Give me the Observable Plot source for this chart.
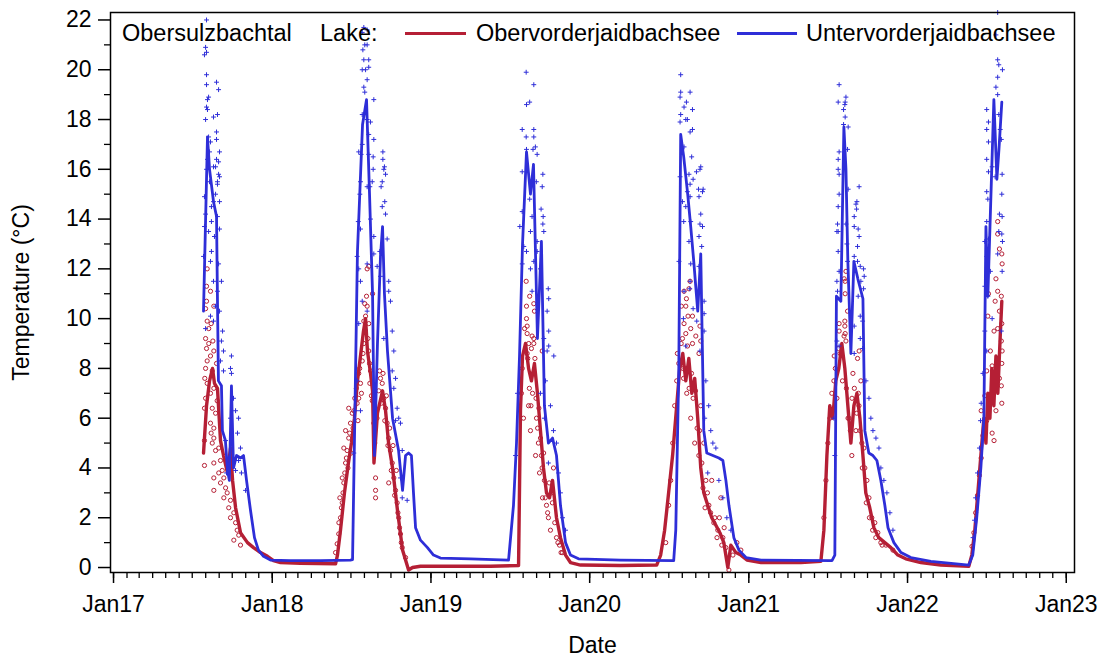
<!DOCTYPE html>
<html><head><meta charset="utf-8">
<script src="https://cdn.jsdelivr.net/npm/d3@7"></script>
<script src="https://cdn.jsdelivr.net/npm/@observablehq/plot@0.6"></script>
<style>
body{margin:0;background:#fff;font-family:"Liberation Sans",Arial,sans-serif;}
#wrap{position:relative;width:1101px;height:659px;}
.leg{position:absolute;font-size:23.5px;line-height:23px;color:#000;white-space:nowrap;}
.sw{position:absolute;height:3px;}
</style></head><body><div id="wrap"></div>
<script>
// ---- data (decimal years, °C) ----
const oberLineYear = [2017.567,2017.586,2017.605,2017.624,2017.636,2017.655,2017.674,2017.693,2017.718,2017.737,2017.750,2017.769,2017.800,2017.844,2017.882,2017.926,2017.970,2018.008,2018.052,2018.178,2018.399,
2018.411,2018.430,2018.455,2018.480,2018.499,2018.518,2018.537,2018.556,2018.575,2018.588,2018.600,2018.619,2018.632,2018.641,2018.663,2018.695,2018.714,2018.733,2018.758,2018.789,2018.821,2018.840,2018.859,2018.884,2018.934,2019.123,2019.375,2019.552,
2019.564,2019.577,2019.596,2019.615,2019.633,2019.652,2019.671,2019.690,2019.709,2019.728,2019.747,2019.766,2019.791,2019.816,2019.848,2019.879,2019.942,2020.194,2020.421,
2020.446,2020.471,2020.496,2020.521,2020.547,2020.566,2020.585,2020.604,2020.623,2020.642,2020.660,2020.679,2020.698,2020.717,2020.742,2020.767,2020.793,2020.818,2020.843,2020.868,2020.887,2020.919,2020.950,2020.988,2021.077,2021.328,2021.454,
2021.473,2021.492,2021.510,2021.529,2021.548,2021.567,2021.586,2021.605,2021.624,2021.643,2021.662,2021.681,2021.700,2021.719,2021.737,2021.762,2021.788,2021.819,2021.857,2021.895,2021.939,2021.989,2022.084,2022.210,2022.386,
2022.405,2022.424,2022.443,2022.462,2022.481,2022.494,2022.506,2022.519,2022.531,2022.544,2022.557,2022.569,2022.582,2022.594];
const oberLineTemp = [4.6,6.5,7.5,8.0,7.4,7.2,5.1,4.5,3.8,4.8,3.5,2.4,1.4,1.0,0.8,0.6,0.45,0.28,0.2,0.17,0.15,
0.5,1.5,3.0,4.2,5.0,6.0,7.5,8.5,9.5,10.0,8.7,7.8,7.1,4.2,6.2,7.1,6.3,5.0,4.0,2.3,0.7,0.3,-0.1,0.0,0.05,0.05,0.05,0.08,
6.3,8.5,9.0,8.0,7.5,8.2,7.0,5.5,4.0,3.0,2.8,3.5,2.0,1.2,0.5,0.2,0.1,0.08,0.1,
0.5,1.5,3.0,4.5,6.5,8.0,8.6,7.5,8.4,7.0,7.6,6.0,4.0,3.0,2.5,2.0,1.7,1.4,1.0,0.0,0.9,0.6,0.5,0.3,0.2,0.2,0.25,
1.5,4.5,6.5,6.0,7.5,8.0,9.0,8.0,6.5,5.0,6.5,7.0,6.0,4.5,3.0,2.4,1.6,1.2,1.0,0.8,0.5,0.35,0.2,0.1,0.05,
0.5,1.5,3.0,4.5,6.0,5.0,7.0,6.0,8.0,6.5,8.5,7.0,9.0,10.7];

const unterLineYear = [2017.567,2017.592,2017.605,2017.630,2017.649,2017.655,2017.661,2017.680,2017.686,2017.705,2017.718,2017.730,2017.743,2017.756,2017.775,2017.800,2017.819,2017.838,2017.863,2017.888,2017.913,2017.945,2017.989,2018.115,2018.304,2018.492,
2018.506,2018.537,2018.569,2018.594,2018.613,2018.632,2018.644,2018.663,2018.682,2018.695,2018.707,2018.726,2018.758,2018.796,2018.821,2018.840,2018.859,2018.877,2018.890,2018.903,2018.934,2018.978,2019.016,2019.060,2019.249,2019.489,
2019.520,2019.539,2019.558,2019.577,2019.602,2019.627,2019.646,2019.671,2019.696,2019.715,2019.740,2019.766,2019.791,2019.816,2019.848,2019.879,2019.930,2020.194,2020.528,
2020.541,2020.560,2020.572,2020.591,2020.616,2020.635,2020.654,2020.679,2020.698,2020.717,2020.736,2020.774,2020.812,2020.837,2020.856,2020.875,2020.906,2020.938,2020.982,2021.077,2021.524,
2021.542,2021.552,2021.580,2021.599,2021.612,2021.624,2021.643,2021.662,2021.687,2021.719,2021.731,2021.756,2021.782,2021.807,2021.832,2021.857,2021.877,2021.914,2021.959,2022.021,2022.147,2022.386,
2022.411,2022.436,2022.462,2022.481,2022.494,2022.506,2022.544,2022.563,2022.576,2022.594];
const unterLineTemp = [10.3,17.3,16.0,14.7,14.1,10.7,7.5,7.3,5.5,5.1,3.9,3.5,7.3,4.0,4.5,4.4,4.5,3.5,2.3,1.2,0.7,0.45,0.3,0.28,0.28,0.3,
0.32,12.7,17.8,18.8,15.0,11.0,4.5,9.0,12.5,13.7,11.0,8.7,6.0,4.7,3.1,4.5,4.6,4.5,3.0,1.6,1.1,0.8,0.5,0.38,0.35,0.3,
2.5,5.0,8.5,13.0,16.7,15.0,16.2,9.2,13.1,6.5,5.0,5.2,4.5,2.5,1.0,0.5,0.35,0.3,0.28,
1.5,8.0,17.4,16.5,15.0,13.7,12.3,10.3,12.6,5.5,4.6,4.5,4.4,4.3,3.5,2.5,1.2,0.7,0.4,0.3,0.28,
0.5,10.9,10.7,17.7,16.0,12.3,8.6,12.3,11.6,10.8,5.5,4.6,4.5,4.3,3.5,2.5,1.6,1.0,0.6,0.4,0.25,0.1,
0.5,2.0,4.0,6.0,13.7,10.9,18.8,15.6,16.8,18.7];

const oberPointYear = [2017.590,2017.586,2017.611,2017.586,2017.632,2017.580,2017.590,2017.615,2017.600,2017.580,2017.626,2017.600,2017.586,2017.632,2017.611,2017.590,2017.580,2017.649,2017.622,2017.575,2017.590,2017.632,2017.611,2017.580,2017.653,2017.622,2017.573,2017.643,2017.611,2017.632,2017.615,2017.632,2017.573,2017.622,2017.643,2017.663,2017.674,2017.632,2017.573,2017.685,2017.663,2017.695,2017.632,2017.674,2017.706,2017.632,2017.716,2017.695,2017.737,2017.726,2017.758,2017.737,2017.769,2017.779,2017.789,2017.800,2017.758,
2018.399,2018.409,2018.419,2018.430,2018.441,2018.426,2018.451,2018.441,2018.462,2018.472,2018.451,2018.482,2018.462,2018.493,2018.504,2018.482,2018.514,2018.535,2018.545,2018.556,2018.545,2018.567,2018.577,2018.588,2018.577,2018.588,2018.598,2018.594,2018.608,2018.608,2018.619,2018.615,2018.630,2018.640,2018.646,2018.651,2018.651,2018.651,2018.671,2018.682,2018.693,2018.703,2018.714,2018.724,2018.734,2018.745,2018.756,2018.734,2018.766,2018.777,2018.787,2018.797,2018.808,2018.819,2018.840,2018.598,2018.608,2018.632,
2018.420,2018.436,2018.446,2018.457,2018.467,2018.477,2018.488,2018.498,2018.509,2018.520,2018.530,2018.540,2018.551,2018.562,2018.572,2018.583,2018.603,2018.613,2018.625,2018.660,2018.676,2018.688,2018.698,2018.709,2018.719,2018.729,2018.740,2018.750,2018.761,2018.771,2018.782,2018.792,2018.802,2018.813,
2019.600,2019.622,2019.602,2019.648,2019.652,2019.602,2019.606,2019.606,2019.637,2019.648,2019.616,2019.648,2019.633,2019.701,2019.606,2019.570,2019.583,2019.615,2019.640,2019.665,2019.677,2019.696,2019.715,2019.728,2019.740,2019.759,2019.772,2019.753,2019.791,2019.810,2019.829,2019.703,2019.684,2019.627,2019.659,
2019.575,2019.590,2019.610,2019.620,2019.630,2019.645,2019.655,2019.662,2019.672,2019.680,2019.690,2019.700,2019.710,2019.720,2019.735,2019.745,2019.765,2019.780,2019.800,2019.820,
2020.631,2020.593,2020.624,2020.608,2020.604,2020.576,2020.618,2020.646,2020.593,2020.693,2020.635,2020.604,2020.667,2020.583,2020.698,2020.646,2020.551,2020.687,2020.478,2020.496,2020.509,2020.522,2020.534,2020.547,2020.635,2020.660,2020.686,2020.698,2020.717,2020.730,2020.749,2020.767,2020.786,2020.805,2020.824,2020.837,2020.856,2020.875,2020.900,2020.925,2020.950,2020.610,2020.585,
2020.560,2020.575,2020.590,2020.600,2020.615,2020.625,2020.640,2020.650,2020.665,2020.675,2020.690,2020.705,2020.712,2020.725,2020.740,2020.760,2020.780,2020.800,2020.815,2020.830,2020.845,
2021.612,2021.601,2021.607,2021.607,2021.622,2021.569,2021.605,2021.605,2021.569,2021.607,2021.612,2021.565,2021.695,2021.538,2021.685,2021.473,2021.486,2021.498,2021.511,2021.523,2021.536,2021.631,2021.649,2021.675,2021.694,2021.712,2021.731,2021.744,2021.757,2021.775,2021.794,2021.813,2021.832,2021.864,2021.908,2021.706,2021.656,
2021.545,2021.555,2021.575,2021.590,2021.600,2021.615,2021.625,2021.640,2021.650,2021.665,2021.680,2021.690,2021.700,2021.715,2021.725,2021.740,2021.760,2021.780,2021.800,2021.840,
2022.568,2022.568,2022.579,2022.594,2022.596,2022.557,2022.568,2022.510,2022.591,2022.552,2022.579,2022.506,2022.594,2022.568,2022.545,2022.591,2022.596,2022.522,2022.594,2022.533,2022.499,2022.579,2022.591,2022.545,2022.487,2022.594,2022.557,2022.464,2022.499,2022.533,2022.475,2022.464,2022.453,2022.441,2022.429,2022.418,2022.406,2022.545];
const oberPointTemp = [12.0,11.3,11.1,10.7,10.5,10.4,9.9,9.8,9.6,9.2,9.1,9.0,8.8,8.7,8.5,8.3,8.0,8.2,7.9,7.6,7.4,7.2,7.0,6.8,6.7,6.4,6.4,6.2,5.8,5.6,5.4,5.2,5.1,5.0,4.7,4.8,4.3,4.2,4.1,3.9,3.8,3.6,3.6,3.4,3.2,3.1,3.0,2.8,2.7,2.4,2.2,2.0,1.8,1.5,1.3,0.9,1.1,
0.6,0.95,1.35,2.0,2.6,2.8,3.4,3.6,4.2,4.7,4.8,5.2,5.5,5.8,6.2,6.4,6.3,6.6,6.8,7.4,7.8,8.3,9.0,9.5,9.9,10.1,10.5,10.9,9.8,8.7,7.9,7.4,6.7,5.8,5.0,3.6,3.1,2.8,7.1,7.6,7.4,6.8,6.4,5.8,5.2,4.7,4.2,3.4,3.6,3.1,2.6,2.0,1.35,0.8,0.4,12.0,12.1,11.0,
1.8,2.4,3.0,3.8,4.4,4.0,5.4,4.6,5.6,6.8,7.2,5.9,8.0,7.0,8.6,10.6,9.2,8.2,6.9,6.0,7.9,6.6,7.8,5.9,6.9,4.9,5.6,3.9,4.9,2.9,3.9,2.2,1.6,1.0,
11.5,10.9,10.5,10.6,10.3,10.0,9.7,9.4,9.3,9.2,9.0,9.0,8.8,8.7,8.6,7.0,6.0,6.5,7.0,6.0,5.0,4.5,3.5,2.5,2.0,3.0,4.0,1.5,1.2,0.9,0.6,2.8,3.8,5.5,4.5,
8.0,9.6,8.4,7.2,6.5,7.8,8.4,6.8,5.6,6.4,5.2,4.0,4.6,2.8,2.2,3.4,2.6,1.8,1.0,0.6,
11.5,11.1,11.2,10.8,10.5,10.5,10.1,10.1,9.8,9.7,9.6,9.4,9.3,9.2,9.1,9.0,8.6,8.6,1.0,2.5,3.5,5.0,6.5,7.5,6.0,5.0,4.5,6.5,5.0,3.5,2.5,3.5,2.0,1.5,2.8,1.2,0.8,-0.1,0.5,1.0,0.7,7.0,8.0,
8.2,9.0,7.6,8.0,8.9,7.2,7.8,6.8,7.1,5.6,5.5,4.2,3.2,2.4,3.0,2.2,1.8,1.2,2.0,0.9,1.6,
11.9,11.6,11.5,11.0,10.3,9.8,9.9,9.7,9.5,9.4,9.1,8.8,8.7,8.5,8.4,2.0,3.5,5.0,6.0,7.0,7.5,6.0,4.5,5.5,6.5,5.0,4.0,3.5,2.8,2.0,1.8,1.4,1.0,0.9,0.7,7.5,7.8,
8.0,6.8,8.6,7.5,9.3,7.2,6.0,5.5,6.8,7.2,6.2,7.0,5.5,4.0,4.8,2.6,2.0,1.5,1.2,0.9,
13.9,13.4,12.8,12.6,12.2,11.6,11.1,11.0,10.9,10.7,10.3,10.1,9.8,9.6,9.5,9.1,8.7,8.7,8.2,8.1,7.9,7.6,7.3,7.2,6.9,6.6,6.3,6.3,5.9,5.4,5.3,4.4,3.7,2.9,2.2,1.4,0.85,5.1];

const unterPointYear = [2017.586,2017.580,2017.586,2017.573,2017.586,2017.649,2017.586,2017.662,2017.599,2017.592,2017.586,2017.592,2017.630,2017.655,2017.580,2017.649,2017.599,2017.611,2017.649,2017.605,2017.668,2017.649,2017.643,2017.592,2017.586,2017.662,2017.655,2017.605,2017.573,2017.662,2017.630,2017.668,2017.655,2017.643,2017.668,2017.630,2017.617,2017.655,2017.617,2017.668,2017.599,2017.636,2017.580,2017.573,2017.617,2017.611,2017.662,2017.567,2017.630,2017.680,2017.655,2017.643,2017.668,2017.611,2017.630,2017.580,2017.687,2017.680,2017.693,2017.743,2017.674,2017.737,2017.743,2017.693,2017.769,2017.788,2017.756,2017.781,2017.800,2017.788,2017.806,2017.832,2017.737,2017.706,2017.725,2017.769,2017.712,
2018.577,2018.598,2018.567,2018.583,2018.598,2018.571,2018.608,2018.577,2018.608,2018.567,2018.588,2018.598,2018.577,2018.583,2018.640,2018.567,2018.598,2018.608,2018.640,2018.545,2018.567,2018.697,2018.707,2018.714,2018.636,2018.630,2018.693,2018.556,2018.598,2018.619,2018.697,2018.560,2018.608,2018.636,2018.703,2018.686,2018.615,2018.552,2018.709,2018.693,2018.714,2018.542,2018.619,2018.556,2018.640,2018.724,2018.678,2018.640,2018.535,2018.545,2018.598,2018.661,2018.682,2018.734,2018.734,2018.556,2018.567,2018.745,2018.598,2018.756,2018.545,2018.703,2018.766,2018.756,2018.777,2018.766,2018.787,2018.777,2018.797,2018.808,2018.819,2018.808,2018.819,2018.850,2018.535,2018.556,2018.525,2018.514,
2019.600,2019.648,2019.602,2019.622,2019.575,2019.648,2019.600,2019.648,2019.658,2019.602,2019.643,2019.669,2019.575,2019.705,2019.664,2019.701,2019.622,2019.694,2019.575,2019.707,2019.637,2019.705,2019.560,2019.627,2019.711,2019.669,2019.585,2019.602,2019.669,2019.648,2019.627,2019.575,2019.690,2019.739,2019.637,2019.742,2019.732,2019.742,2019.711,2019.742,2019.774,2019.732,2019.722,2019.753,2019.772,2019.791,2019.740,2019.804,2019.816,2019.829,2019.848,2019.715,2019.690,2019.533,2019.545,
2020.572,2020.572,2020.631,2020.568,2020.608,2020.593,2020.646,2020.572,2020.604,2020.614,2020.568,2020.646,2020.631,2020.593,2020.641,2020.698,2020.693,2020.671,2020.624,2020.568,2020.650,2020.631,2020.684,2020.713,2020.709,2020.614,2020.631,2020.687,2020.583,2020.604,2020.698,2020.591,2020.635,2020.709,2020.693,2020.687,2020.624,2020.704,2020.561,2020.635,2020.687,2020.631,2020.593,2020.629,2020.719,2020.650,2020.719,2020.589,2020.673,2020.719,2020.604,2020.693,2020.730,2020.748,2020.723,2020.761,2020.774,2020.793,2020.742,2020.812,2020.837,2020.862,2020.887,
2021.569,2021.563,2021.612,2021.607,2021.605,2021.597,2021.607,2021.597,2021.626,2021.569,2021.622,2021.563,2021.563,2021.569,2021.695,2021.626,2021.569,2021.681,2021.675,2021.563,2021.679,2021.664,2021.612,2021.559,2021.664,2021.689,2021.563,2021.555,2021.695,2021.685,2021.618,2021.563,2021.664,2021.685,2021.622,2021.702,2021.723,2021.727,2021.569,2021.555,2021.706,2021.723,2021.559,2021.689,2021.702,2021.717,2021.664,2021.702,2021.569,2021.555,2021.717,2021.664,2021.738,2021.757,2021.769,2021.782,2021.801,2021.820,2021.832,2021.851,2021.870,2021.889,2021.908,2021.536,2021.542,
2022.568,2022.557,2022.568,2022.575,2022.598,2022.568,2022.557,2022.568,2022.499,2022.510,2022.499,2022.575,2022.584,2022.510,2022.591,2022.499,2022.533,2022.510,2022.552,2022.499,2022.506,2022.596,2022.594,2022.579,2022.596,2022.499,2022.510,2022.575,2022.594,2022.487,2022.598,2022.499,2022.522,2022.596,2022.568,2022.487,2022.506,2022.533,2022.591,2022.487,2022.499,2022.475,2022.464,2022.460,2022.453,2022.441,2022.429,2022.422,2022.413];
const unterPointTemp = [22.0,20.9,20.7,20.6,19.8,19.5,19.4,19.2,18.9,18.8,18.5,18.4,18.1,18.2,18.0,17.5,17.3,17.1,17.2,16.7,16.7,16.4,16.1,16.4,16.0,15.8,15.5,15.5,14.9,16.3,16.1,15.7,15.4,15.0,14.7,14.7,14.5,14.1,13.9,13.6,13.5,13.3,14.2,13.7,12.7,12.3,12.2,12.5,11.5,11.5,11.1,10.5,10.3,10.1,9.9,9.6,9.5,9.1,8.7,8.5,8.3,8.0,7.8,7.9,6.3,6.0,6.8,5.4,4.8,4.3,3.8,3.1,6.0,5.1,4.4,3.9,3.8,
21.7,21.6,21.5,21.0,21.0,20.8,20.4,20.4,20.1,20.0,20.0,19.6,19.3,19.1,18.8,18.2,18.0,17.4,17.2,16.7,17.0,16.7,16.1,15.8,16.5,15.5,15.5,15.5,15.3,17.9,16.4,16.6,16.6,16.0,16.0,15.3,15.3,15.0,14.7,14.5,14.2,13.9,14.0,13.6,13.3,13.2,12.7,12.6,12.5,12.0,12.2,12.1,11.7,11.5,11.1,11.5,10.7,10.7,10.3,9.5,9.8,9.2,8.7,7.9,7.6,7.2,6.4,5.9,6.0,5.8,4.7,3.6,2.8,2.7,7.5,6.3,6.3,4.6,
19.9,19.4,18.6,18.7,17.6,17.6,17.3,17.3,16.9,16.8,16.8,16.6,15.9,15.8,15.5,15.3,14.8,14.4,14.3,14.1,14.1,13.8,13.7,13.5,13.5,13.1,12.9,12.7,12.7,12.3,12.0,12.2,12.0,11.2,11.1,10.8,10.3,9.5,9.2,8.9,8.5,8.7,7.5,6.5,5.5,5.0,4.2,3.8,3.0,2.0,1.5,6.0,7.0,4.5,7.0,
19.8,19.1,19.1,18.9,18.7,18.5,18.4,18.2,18.0,18.0,17.9,17.6,17.5,16.9,16.5,16.1,16.0,15.9,15.8,15.7,15.6,15.4,15.2,15.2,15.1,15.1,14.9,14.9,14.7,14.5,14.2,13.9,13.9,13.7,13.8,13.3,13.1,12.9,12.3,12.2,12.1,11.5,11.1,11.2,10.7,10.4,10.2,10.0,9.9,9.5,8.9,8.7,7.5,6.5,6.0,5.5,5.0,4.8,3.8,3.5,2.8,2.0,1.5,
19.4,18.7,18.9,18.7,18.6,18.4,18.1,17.8,17.7,16.7,16.8,16.4,16.0,15.8,15.3,15.2,15.0,14.7,14.6,14.5,14.4,14.1,13.8,13.8,13.7,13.6,13.5,13.5,13.3,12.9,13.0,12.7,12.5,12.3,12.3,12.1,12.0,11.7,11.9,11.5,11.5,11.2,11.1,10.9,10.1,9.9,9.7,9.2,8.9,9.1,8.8,8.6,7.5,6.8,6.0,5.5,5.2,4.8,4.0,3.5,3.0,2.2,1.5,6.0,4.5,
22.3,21.4,20.4,20.2,20.0,19.7,19.3,19.0,18.4,17.9,17.6,18.2,17.6,17.1,17.2,16.4,16.1,15.9,15.7,15.1,14.8,15.8,15.0,14.2,14.1,13.9,13.2,13.5,13.4,13.1,13.1,12.5,11.9,11.9,12.6,11.3,10.9,10.0,9.5,9.5,8.7,7.8,6.6,5.9,4.8,3.8,2.8,1.9,1.2];

const yearTicks = [2017, 2018, 2019, 2020, 2021, 2022, 2023];
const yMajorTicks = [0, 2, 4, 6, 8, 10, 12, 14, 16, 18, 20, 22];
const yMinorTicks = [1, 3, 5, 7, 9, 11, 13, 15, 17, 19, 21];
const lakeNames = ["Obervorderjaidbachsee", "Untervorderjaidbachsee"];
const lakeColors = ["#b51f35", "#2e2ed8"];

// ---- helpers ----
function toDate(y) {
  const yr = Math.floor(y);
  const a = Date.UTC(yr, 0, 1), b = Date.UTC(yr + 1, 0, 1);
  return new Date(a + (y - yr) * (b - a));
}
const rows = (ys, ts) => ys.map((y, i) => ({date: toDate(y), temp: ts[i]}));
const oberLine = rows(oberLineYear, oberLineTemp);
const unterLine = rows(unterLineYear, unterLineTemp);
const oberPts = rows(oberPointYear, oberPointTemp);
const unterPts = rows(unterPointYear, unterPointTemp);

const yearDates = yearTicks.map(y => new Date(Date.UTC(y, 0, 1)));
const monthDates = d3.utcMonth.range(new Date(Date.UTC(2017, 0, 1)), new Date(Date.UTC(2023, 0, 2)));

const chart = Plot.plot({
  width: 1101, height: 659,
  marginLeft: 110, marginRight: 27, marginTop: 12, marginBottom: 87,
  style: {fontFamily: "'Liberation Sans', Arial, sans-serif", fontSize: "23px", color: "#000", background: "#fff", overflow: "visible"},
  x: {type: "utc", domain: [toDate(2016.981), toDate(2023.052)]},
  y: {domain: [-0.2, 22.3]},
  marks: [
    Plot.axisX({ticks: monthDates, tickSize: 6, strokeWidth: 1.3, tickFormat: () => "", label: null}),
    Plot.axisX({ticks: yearDates, tickSize: 11, strokeWidth: 1.5, tickPadding: 12,
      tickFormat: d => "Jan" + String(d.getUTCFullYear()).slice(2),
      label: "Date", labelAnchor: "center", labelArrow: "none", labelOffset: 80}),
    Plot.axisY({ticks: yMinorTicks, tickSize: 6, strokeWidth: 1.3, tickFormat: () => "", label: null}),
    Plot.axisY({ticks: yMajorTicks, tickSize: 12, strokeWidth: 1.5, tickPadding: 7,
      label: "Temperature (°C)", labelAnchor: "center", labelArrow: "none", labelOffset: 98}),
    Plot.dot(oberPts, {x: "date", y: "temp", r: 2.1, stroke: lakeColors[0], strokeWidth: 1, fill: "none"}),
    Plot.line(oberLine, {x: "date", y: "temp", stroke: lakeColors[0], strokeWidth: 3.4}),
    Plot.dot(unterPts, {x: "date", y: "temp", symbol: "plus", r: 1.7, stroke: lakeColors[1], strokeWidth: 1}),
    Plot.line(unterLine, {x: "date", y: "temp", stroke: lakeColors[1], strokeWidth: 2.8}),
    Plot.frame({stroke: "#000", strokeWidth: 1.5})
  ]
});
const wrap = document.getElementById("wrap");
wrap.appendChild(chart);

// legend inside plot area
function addText(txt, left) {
  const d = document.createElement("div");
  d.className = "leg"; d.textContent = txt;
  d.style.left = left + "px"; d.style.top = "22px";
  wrap.appendChild(d);
}
function addSwatch(color, left, w) {
  const s = document.createElement("div");
  s.className = "sw"; s.style.background = color;
  s.style.left = left + "px"; s.style.top = "32px"; s.style.width = w + "px";
  wrap.appendChild(s);
}
addText("Obersulzbachtal", 122);
addText("Lake:", 320);
addSwatch(lakeColors[0], 405, 61);
addText(lakeNames[0], 476);
addSwatch(lakeColors[1], 737, 60);
addText(lakeNames[1], 806);
</script></body></html>
